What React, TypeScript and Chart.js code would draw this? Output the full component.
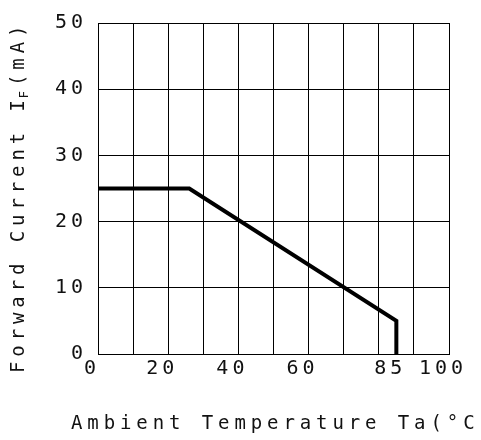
import React, { useEffect, useRef } from "react";
import { Chart, registerables } from "chart.js";

Chart.register(...registerables);

const X_VALUES = [0, 26, 85, 85];
const Y_VALUES = [25, 25, 5, 0];
const X_TICKS = [0, 20, 40, 60, 85, 100];
const Y_TICKS = [0, 10, 20, 30, 40, 50];
const X_MIN = 0;
const X_MAX = 100;
const X_GRID_STEP = 10;
const Y_MIN = 0;
const Y_MAX = 50;
const X_TITLE = "Ambient Temperature Ta(°C)";
const Y_TITLE_MAIN = "Forward Current I";
const Y_TITLE_SUB = "F";
const Y_TITLE_END = "(mA)";

const FONT = '"DejaVu Sans Mono", monospace';

export default function App() {
  const ref = useRef<HTMLCanvasElement | null>(null);

  useEffect(() => {
    document.body.style.margin = "0";
    const canvas = ref.current;
    if (!canvas) return;

    const spacingPlugin = {
      id: "spacing",
      beforeUpdate(chart: any) {
        chart.ctx.letterSpacing = "4px";
      },
      beforeDraw(chart: any) {
        chart.ctx.letterSpacing = "4px";
      },
      afterDraw(chart: any) {
        const ctx = chart.ctx as CanvasRenderingContext2D;
        ctx.save();
        ctx.fillStyle = "#111";
        ctx.textAlign = "left";
        ctx.textBaseline = "alphabetic";
        ctx.font = `19px ${FONT}`;
        (ctx as any).letterSpacing = "4.9px";
        ctx.fillText(X_TITLE, 71, 429);
        ctx.restore();

        ctx.save();
        ctx.fillStyle = "#111";
        ctx.textAlign = "left";
        ctx.textBaseline = "alphabetic";
        ctx.translate(24, 373);
        ctx.rotate(-Math.PI / 2);
        ctx.font = `19px ${FONT}`;
        (ctx as any).letterSpacing = "4.9px";
        ctx.fillText(Y_TITLE_MAIN, 0, 0);
        const w1 = ctx.measureText(Y_TITLE_MAIN).width;
        ctx.font = `12px ${FONT}`;
        (ctx as any).letterSpacing = "2px";
        ctx.fillText(Y_TITLE_SUB, w1 - 3, 4);
        const w2 = ctx.measureText(Y_TITLE_SUB).width;
        ctx.font = `19px ${FONT}`;
        (ctx as any).letterSpacing = "4.9px";
        ctx.fillText(Y_TITLE_END, w1 + w2, 0);
        ctx.restore();
      },
    };

    const tickFont = { family: FONT, size: 20 };

    const chart = new Chart(canvas, {
      type: "line",
      data: {
        datasets: [
          {
            data: X_VALUES.map((x, i) => ({ x, y: Y_VALUES[i] })),
            borderColor: "#000",
            borderWidth: 4,
            pointRadius: 0,
            tension: 0,
            fill: false,
            borderJoinStyle: "miter",
            borderCapStyle: "butt",
          },
        ],
      },
      options: {
        animation: false,
        responsive: false,
        layout: { padding: { top: 18, right: 32, left: 0, bottom: 0 } },
        plugins: {
          legend: { display: false },
          tooltip: { enabled: false },
        },
        scales: {
          x: {
            type: "linear",
            position: "bottom",
            min: X_MIN,
            max: X_MAX,
            ticks: { display: false, stepSize: X_GRID_STEP },
            grid: { color: "#000", lineWidth: 1, drawTicks: false },
            border: { display: true, color: "#000" },
            afterFit: (s: any) => {
              s.height = 0;
            },
          },
          x2: {
            type: "linear",
            position: "bottom",
            min: X_MIN,
            max: X_MAX,
            grid: { display: false, drawTicks: false },
            border: { display: false },
            afterBuildTicks: (s: any) => {
              s.ticks = X_TICKS.map((v) => ({ value: v }));
            },
            ticks: {
              font: tickFont,
              color: "#111",
              padding: 3,
              labelOffset: -6,
              autoSkip: false,
              maxRotation: 0,
            },
            afterFit: (s: any) => {
              s.height = 86;
            },
          },
          y: {
            type: "linear",
            min: Y_MIN,
            max: Y_MAX,
            afterBuildTicks: (s: any) => {
              s.ticks = Y_TICKS.map((v) => ({ value: v }));
            },
            ticks: { font: tickFont, color: "#111", padding: 11 },
            grid: { color: "#000", lineWidth: 1, drawTicks: false },
            border: { display: true, color: "#000" },
            afterFit: (s: any) => {
              s.width = 98;
            },
          },
        },
      } as any,
      plugins: [spacingPlugin],
    });

    return () => chart.destroy();
  }, []);

  return (
    <div style={{ width: 481, height: 440 }}>
      <canvas ref={ref} width={481} height={440} />
    </div>
  );
}
